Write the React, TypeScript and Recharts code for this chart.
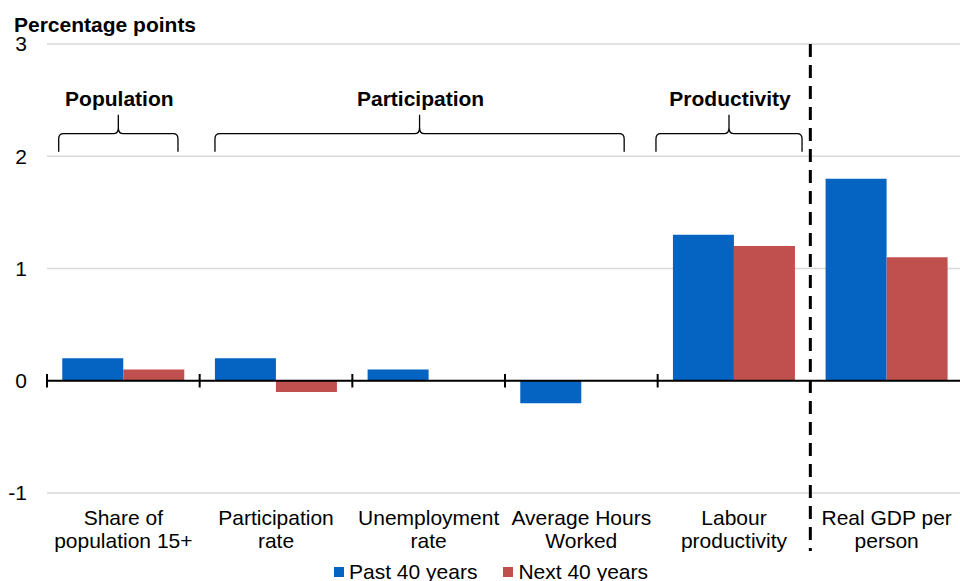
import { BarChart, Bar, XAxis, YAxis, CartesianGrid, ReferenceLine, ReferenceArea } from "recharts";

const categories = [
  "Share of\npopulation 15+",
  "Participation\nrate",
  "Unemployment\nrate",
  "Average Hours\nWorked",
  "Labour\nproductivity",
  "Real GDP per\nperson",
];
const past40 = [0.2, 0.2, 0.1, -0.2, 1.3, 1.8];
const next40 = [0.1, -0.1, 0, 0, 1.2, 1.1];
const yTicks = [-1, 0, 1, 2, 3];

const data = categories.map((name, i) => ({ name, past: past40[i], next: next40[i] }));

const BLUE = "#0563C1";
const RED = "#C0504D";
const FONT = "Arial, 'Liberation Sans', sans-serif";

//category label, split on the line break
const CategoryTick = (props: any) => {
  const { x, y, payload } = props;
  const lines = String(payload.value).split("\n");
  return (
    <g>
      {lines.map((line: string, i: number) => (
        <text key={i} x={x} y={y + 32 + i * 23} textAnchor="middle" fontSize={21} fill="#000" fontFamily={FONT}>
          {line}
        </text>
      ))}
    </g>
  );
};

//curly brace over a group of categories with a bold label above it
const braceShape = (label: string, insetL: number, insetR: number) => (props: any) => {
  const { x, y, width, height } = props;
  const L = x + insetL;
  const R = x + width - insetR;
  const c = (L + R) / 2;
  const top = y;
  const bottom = y + height;
  const m = top + 19;
  const d = [
    `M ${L} ${bottom} L ${L} ${m + 5} Q ${L} ${m} ${L + 5} ${m} L ${c - 5} ${m} Q ${c} ${m} ${c} ${m - 6} L ${c} ${top}`,
    `M ${c} ${m - 6} Q ${c} ${m} ${c + 5} ${m} L ${R - 5} ${m} Q ${R} ${m} ${R} ${m + 5} L ${R} ${bottom}`,
  ].join(" ");
  return (
    <g>
      <path d={d} fill="none" stroke="#000" strokeWidth={1.3} />
      <text x={c + 1} y={top - 9} textAnchor="middle" fontSize={21} fontWeight="bold" fill="#000" fontFamily={FONT}>
        {label}
      </text>
    </g>
  );
};

const dashedDivider = (props: any) => {
  const { x1, y1, y2 } = props;
  const yTop = Math.min(y1, y2);
  const yBot = Math.max(y1, y2);
  return <line x1={x1} x2={x1} y1={yTop} y2={yBot + 58} stroke="#000" strokeWidth={3} strokeDasharray="13 8" />;
};

const App = () => {
  return (
    <div style={{ position: "relative", width: 960, height: 581, overflow: "hidden", fontFamily: FONT }}>
      <style>{`body{margin:0;overflow:hidden}`}</style>
      <div style={{ position: "absolute", left: 14, top: 13, fontSize: 21, fontWeight: "bold", lineHeight: "24px", whiteSpace: "nowrap" }}>
        Percentage points
      </div>
      <div style={{ position: "absolute", left: 0, top: 0 }}>
        <BarChart
          width={966}
          height={581}
          data={data}
          margin={{ top: 44, right: 3, bottom: 0, left: 0 }}
          barCategoryGap="10%"
          barGap={0}
        >
          <CartesianGrid horizontal vertical={false} stroke="#d9d9d9" strokeWidth={1.3} />
          <XAxis
            dataKey="name"
            axisLine={false}
            tickLine={false}
            tickSize={0}
            tickMargin={0}
            height={88}
            interval={0}
            tick={<CategoryTick />}
          />
          <YAxis
            domain={[-1, 3]}
            ticks={yTicks}
            axisLine={false}
            tickLine={false}
            tickSize={0}
            tickMargin={20}
            width={47}
            tick={{ fontSize: 21, fill: "#000", fontFamily: FONT }}
          />
          <ReferenceArea x1={categories[0]} x2={categories[0]} y1={2.04} y2={2.37} ifOverflow="visible" shape={braceShape("Population", 11.7, 21.7)} />
          <ReferenceArea x1={categories[1]} x2={categories[3]} y1={2.04} y2={2.37} ifOverflow="visible" shape={braceShape("Participation", 15.3, 33.5)} />
          <ReferenceArea x1={categories[4]} x2={categories[4]} y1={2.04} y2={2.37} ifOverflow="visible" shape={braceShape("Productivity", -1.7, 8.3)} />
          <Bar dataKey="past" fill={BLUE} isAnimationActive={false} />
          <Bar dataKey="next" fill={RED} isAnimationActive={false} />
          <ReferenceLine y={0} stroke="#000" strokeWidth={2} />
          {categories.slice(0, 5).map((c) => (
            <ReferenceLine
              key={c}
              position="start"
              segment={[{ x: c, y: -0.06 }, { x: c, y: 0.06 }]}
              stroke="#000"
              strokeWidth={2}
              ifOverflow="visible"
            />
          ))}
          <ReferenceLine x={categories[5]} position="start" ifOverflow="visible" shape={dashedDivider} />
        </BarChart>
      </div>
      <div style={{ position: "absolute", top: 560, left: 0, width: 960, display: "flex", justifyContent: "center", fontSize: 21, lineHeight: "24px" }}>
        <div style={{ display: "flex", alignItems: "center", marginLeft: 22 }}>
          <span style={{ width: 10, height: 10, background: BLUE, marginRight: 5 }} />
          <span>Past 40 years</span>
        </div>
        <div style={{ display: "flex", alignItems: "center", marginLeft: 26 }}>
          <span style={{ width: 10, height: 10, background: RED, marginRight: 5 }} />
          <span>Next 40 years</span>
        </div>
      </div>
    </div>
  );
};

export default App;
